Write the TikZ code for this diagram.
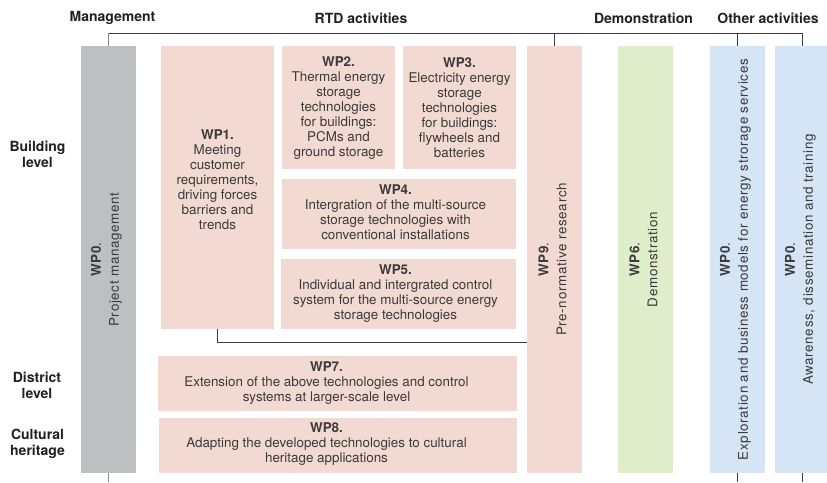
\documentclass[tikz,border=0pt]{standalone}
\usepackage{fontspec}
\setmainfont{TeX Gyre Heros}
\newfontfamily\vfont[LetterSpace=5]{TeX Gyre Heros}
\definecolor{greybox}{HTML}{BEBFC3}
\definecolor{pinkbox}{HTML}{F2DAD2}
\definecolor{greenbox}{HTML}{DFEDCB}
\definecolor{bluebox}{HTML}{D5E5F6}
\definecolor{txt}{HTML}{3A3A3A}
\definecolor{hdr}{HTML}{231F20}
\definecolor{linec}{HTML}{3C3C3C}
\definecolor{greyline}{HTML}{8A8A8C}
\tikzset{
  wpbox/.style={draw=none, inner sep=0pt, outer sep=0pt},
  boxtext/.style={align=center, text=txt, inner sep=0pt, font=\fontsize{13.4}{15}\selectfont},
  vtext/.style={boxtext, rotate=90, font=\vfont\fontsize{13.4}{18}\selectfont},
  header/.style={align=center, text=hdr, inner sep=0pt, font=\fontsize{14}{16}\selectfont\bfseries},
  conn/.style={draw=linec, line width=0.9pt},
  gconn/.style={draw=greyline, line width=1.4pt}
}
\begin{document}
\begin{tikzpicture}[x=1pt,y=-1pt]
\useasboundingbox (0,0) rectangle (827,482);
% headers
\node[header] (hmgmt) at (112.5,18) {Management};
\node[header] (hrtd) at (361,18) {RTD activities};
\node[header] (hdemo) at (643.5,18) {Demonstration};
\node[header] (hother) at (768,18) {Other activities};
% row labels
\node[header] (rbuild) at (37.5,154) {Building\\level};
\node[header] (rdist) at (37,385) {District\\level};
\node[header] (rcult) at (37.5,444) {Cultural\\heritage};
% boxes
\node[wpbox, fill=greybox, minimum width=55pt, minimum height=427pt] (wp0) at (108.5,259.5) {};
\node[wpbox, fill=pinkbox, minimum width=113pt, minimum height=283pt] (wp1) at (217.5,187.5) {};
\node[wpbox, fill=pinkbox, minimum width=113pt, minimum height=123pt] (wp2) at (338.5,107.5) {};
\node[wpbox, fill=pinkbox, minimum width=113pt, minimum height=123pt] (wp3) at (459.5,107.5) {};
\node[wpbox, fill=pinkbox, minimum width=234pt, minimum height=70pt] (wp4) at (399,214) {};
\node[wpbox, fill=pinkbox, minimum width=235pt, minimum height=70pt] (wp5) at (398.5,294) {};
\node[wpbox, fill=pinkbox, minimum width=359pt, minimum height=55pt] (wp7) at (337.5,383.5) {};
\node[wpbox, fill=pinkbox, minimum width=358pt, minimum height=55pt] (wp8) at (338,445.5) {};
\node[wpbox, fill=pinkbox, minimum width=55pt, minimum height=427pt] (wp9) at (554.5,259.5) {};
\node[wpbox, fill=greenbox, minimum width=55pt, minimum height=427pt] (wp6) at (645.5,259.5) {};
\node[wpbox, fill=bluebox, minimum width=55pt, minimum height=427pt] (ex) at (737.5,259.5) {};
\node[wpbox, fill=bluebox, minimum width=55pt, minimum height=427pt] (aw) at (802.5,259.5) {};
% texts
\node[boxtext] (t1) at (217.5,180) {\textbf{WP1.}\\Meeting\\customer\\requirements,\\driving forces\\barriers and\\trends};
\node[boxtext] (t2) at (338.5,108) {\textbf{WP2.}\\Thermal energy\\storage\\technologies\\for buildings:\\PCMs and\\ground storage};
\node[boxtext] (t3) at (459.5,108) {\textbf{WP3.}\\Electricity energy\\storage\\technologies\\for buildings:\\flywheels and\\batteries};
\node[boxtext] (t4) at (395.5,212) {\textbf{WP4.}\\Intergration of the multi-source\\storage technologies with\\conventional installations};
\node[boxtext] (t5) at (395.5,294) {\textbf{WP5.}\\Individual and intergrated control\\system for the multi-source energy\\storage technologies};
\node[boxtext] (t7) at (326.5,383) {\textbf{WP7.}\\Extension of the above technologies and control\\systems at larger-scale level};
\node[boxtext] (t8) at (326.5,444) {\textbf{WP8.}\\Adapting the developed technologies to cultural\\heritage applications};
\node[vtext] (t0) at ([xshift=-2pt]wp0.center) {\textbf{WP0}.\\Project management};
\node[vtext] (t9) at ([xshift=-2pt]wp9.center) {\textbf{WP9}.\\Pre-normative research};
\node[vtext] (t6) at ([xshift=-2pt]wp6.center) {\textbf{WP6}.\\Demonstration};
\node[vtext] (tex) at ([xshift=-2pt]ex.center) {\textbf{WP0}.\\Exploration and business models for energy strorage services};
\node[vtext] (taw) at ([xshift=-2pt]aw.center) {\textbf{WP0}.\\Awareness, dissemination and training};
% connectors
\coordinate (topbar) at (0,33);
\coordinate (midbar) at (0,342);
\coordinate (bot) at (0,482);
\draw[gconn] (wp0.north) -- (wp0.north |- topbar);
\draw[conn] (wp0.north |- topbar) -- (aw.north |- topbar) -- (aw.north);
\draw[conn] (wp9.north) -- (wp9.north |- topbar);
\draw[conn] (ex.north) -- (ex.north |- topbar);
\draw[conn] (wp1.south) |- (wp9.west |- midbar);
\draw[gconn] (wp0.south) -- (wp0.south |- bot);
\draw[conn] (ex.south) -- (ex.south |- bot);
\draw[conn] (aw.south) -- (aw.south |- bot);
\end{tikzpicture}
\end{document}
